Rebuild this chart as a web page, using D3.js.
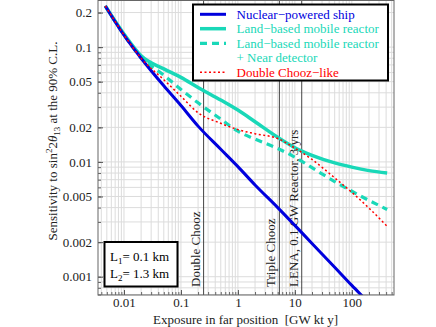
<!DOCTYPE html>
<html>
<head>
<meta charset="utf-8">
<script src="https://cdn.jsdelivr.net/npm/d3@7"></script>
<style>
  body { margin: 0; background: #fff; }
  text { font-family: "Liberation Serif", "DejaVu Serif", serif; }
</style>
</head>
<body>
<svg id="chart" width="436" height="327"></svg>
<script>
// exposure in far position [GW kt y]
var exposure = [0.0047, 0.01, 0.02, 0.05, 0.1, 0.2, 0.5, 1, 2, 5, 10, 20, 50, 100, 200, 417];
// sensitivity to sin^2 2theta13 (90% C.L.)
var shipVals = [0.228, 0.127, 0.080, 0.046, 0.031, 0.0205, 0.0129, 0.0091, 0.0063, 0.0040, 0.0028, 0.00195, 0.00121, 0.00084, 0.00059, 0.0004];
var landVals = [0.228, 0.130, 0.084, 0.0646, 0.0545, 0.0445, 0.0346, 0.0283, 0.0224, 0.0164, 0.0133, 0.0114, 0.0098, 0.0090, 0.0084, 0.0080];
var nearVals = [0.228, 0.128, 0.081, 0.057, 0.0428, 0.0327, 0.0236, 0.0185, 0.0158, 0.0131, 0.011, 0.0089, 0.00675, 0.00555, 0.00462, 0.00385];
var dcVals   = [0.228, 0.128, 0.080, 0.052, 0.0373, 0.0268, 0.0217, 0.0191, 0.0176, 0.016, 0.0132, 0.0105, 0.00726, 0.00543, 0.00396, 0.00275];

var markerNames = ["Double Chooz", "Triple Chooz", "LENA, 0.1 GW Reactor, 3 yrs"];
var markerExposure = [0.25, 5.35, 13.2];

var xTicks = [0.01, 0.1, 1, 10, 100];
var xTickLabels = ["0.01", "0.1", "1", "10", "100"];
var yTicks = [0.2, 0.1, 0.05, 0.02, 0.01, 0.005, 0.002, 0.001];
var yTickLabels = ["0.2", "0.1", "0.05", "0.02", "0.01", "0.005", "0.002", "0.001"];

var legendNames = ["Nuclear\u2212powered ship", "Land\u2212based mobile reactor", "Land\u2212based mobile reactor", "Double Chooz\u2212like"];

var blue = "#0000dd", teal = "#19d8b8", red = "#ff0000";

var pL = 98, pR = 394, pT = 0.5, pB = 295;
var svg = d3.select("#chart");

var x = d3.scaleLog().domain([0.0035, 550]).range([pL, pR]);
var y = d3.scaleLog().domain([0.000693, 0.2547]).range([pB, pT]);

svg.append("clipPath").attr("id", "clip")
  .append("rect").attr("x", pL).attr("y", pT).attr("width", pR - pL).attr("height", pB - pT);

// grid
var grid = svg.append("g");
grid.selectAll(".gx").data(x.ticks()).enter().append("line")
  .attr("x1", function (d) { return x(d); }).attr("x2", function (d) { return x(d); })
  .attr("y1", pT).attr("y2", pB)
  .attr("stroke", "#dcdcdc").attr("stroke-width", 1);
grid.selectAll(".gy").data(y.ticks()).enter().append("line")
  .attr("y1", function (d) { return y(d); }).attr("y2", function (d) { return y(d); })
  .attr("x1", pL).attr("x2", pR)
  .attr("stroke", "#dcdcdc").attr("stroke-width", 1);

// axes (inward ticks)
var xMinor = d3.axisBottom(x).tickValues(x.ticks()).tickSize(-3).tickFormat("");
var yMinor = d3.axisLeft(y).tickValues(y.ticks()).tickSize(-3).tickFormat("");
svg.append("g").attr("transform", "translate(0," + pB + ")").call(xMinor)
  .call(function (g) { g.select(".domain").remove(); g.selectAll("line").attr("stroke", "#666"); });
svg.append("g").attr("transform", "translate(" + pL + ",0)").call(yMinor)
  .call(function (g) { g.select(".domain").remove(); g.selectAll("line").attr("stroke", "#666"); });

var xAxis = d3.axisBottom(x).tickValues(xTicks).tickSize(-5).tickPadding(3)
  .tickFormat(function (d, i) { return xTickLabels[i]; });
svg.append("g").attr("transform", "translate(0," + pB + ")").call(xAxis)
  .call(function (g) {
    g.select(".domain").remove();
    g.selectAll("line").attr("stroke", "#555");
    g.selectAll("text").attr("font-size", 13).attr("fill", "#222")
      .attr("font-family", "Liberation Serif");
  });
var yAxis = d3.axisLeft(y).tickValues(yTicks).tickSize(-5).tickPadding(6)
  .tickFormat(function (d, i) { return yTickLabels[i]; });
svg.append("g").attr("transform", "translate(" + pL + ",0)").call(yAxis)
  .call(function (g) {
    g.select(".domain").remove();
    g.selectAll("line").attr("stroke", "#555");
    g.selectAll("text").attr("font-size", 13).attr("fill", "#222")
      .attr("font-family", "Liberation Serif");
  });

// marker lines
var markers = svg.append("g");
markerExposure.forEach(function (v, i) {
  markers.append("line")
    .attr("x1", x(v)).attr("x2", x(v)).attr("y1", pT).attr("y2", pB)
    .attr("stroke", "#444").attr("stroke-width", 1);
  markers.append("text")
    .attr("transform", "translate(" + (x(v) - 4) + "," + (pB - 8) + ") rotate(-90)")
    .attr("font-size", 13).attr("fill", "#222")
    .text(markerNames[i]);
});

// curves
var line = d3.line()
  .x(function (d) { return x(d[0]); })
  .y(function (d) { return y(d[1]); })
  .curve(d3.curveMonotoneX);
function pairs(vals) { return exposure.map(function (e, i) { return [e, vals[i]]; }); }

var curves = svg.append("g").attr("clip-path", "url(#clip)");
curves.append("path").datum(pairs(landVals)).attr("d", line)
  .attr("fill", "none").attr("stroke", teal).attr("stroke-width", 3.5);
curves.append("path").datum(pairs(nearVals)).attr("d", line)
  .attr("fill", "none").attr("stroke", teal).attr("stroke-width", 3.2)
  .attr("stroke-dasharray", "7,5");
curves.append("path").datum(pairs(shipVals)).attr("d", line)
  .attr("fill", "none").attr("stroke", blue).attr("stroke-width", 3);
curves.append("path").datum(pairs(dcVals)).attr("d", line)
  .attr("fill", "none").attr("stroke", red).attr("stroke-width", 1.5)
  .attr("stroke-dasharray", "2,2.5");

// frame
svg.append("rect").attr("x", pL).attr("y", pT).attr("width", pR - pL).attr("height", pB - pT)
  .attr("fill", "none").attr("stroke", "#666").attr("stroke-width", 1);

// legend
var lg = svg.append("g");
lg.append("rect").attr("x", 193).attr("y", 4.5).attr("width", 195).attr("height", 76)
  .attr("fill", "#fff").attr("stroke", "#000").attr("stroke-width", 2);
var legendRows = [14.3, 28.7, 43.3, 72.3];
var legendColors = [blue, teal, teal, red];
var legendWidth = [3, 3.5, 3.2, 1.5];
var legendDash = [null, null, "7,5", "2,2.5"];
legendNames.forEach(function (n, i) {
  lg.append("line").attr("x1", 200).attr("x2", 226)
    .attr("y1", legendRows[i]).attr("y2", legendRows[i])
    .attr("stroke", legendColors[i]).attr("stroke-width", legendWidth[i])
    .attr("stroke-dasharray", legendDash[i]);
  lg.append("text").attr("x", 236.5).attr("y", legendRows[i] + 4.5)
    .attr("font-size", 13).attr("fill", legendColors[i]).text(n);
});
lg.append("text").attr("x", 236.5).attr("y", 57.7 + 4.5)
  .attr("font-size", 13).attr("fill", teal).text("+ Near detector");

// baseline box
var lb = svg.append("g");
lb.append("rect").attr("x", 104.5).attr("y", 242).attr("width", 73).attr("height", 44.5)
  .attr("fill", "#fff").attr("stroke", "#000").attr("stroke-width", 2);
var t1 = lb.append("text").attr("x", 110).attr("y", 260.5).attr("font-size", 13);
t1.append("tspan").text("L");
t1.append("tspan").attr("font-size", 9).attr("dy", 3).text("1");
t1.append("tspan").attr("dy", -3).text("= 0.1 km");
var t2 = lb.append("text").attr("x", 110).attr("y", 277.5).attr("font-size", 13);
t2.append("tspan").text("L");
t2.append("tspan").attr("font-size", 9).attr("dy", 3).text("2");
t2.append("tspan").attr("dy", -3).text("= 1.3 km");

// axis titles
svg.append("text").attr("x", 245.5).attr("y", 324).attr("text-anchor", "middle")
  .attr("font-size", 13).attr("fill", "#222")
  .text("Exposure in far position\u00a0\u00a0[GW kt y]");

var yt = svg.append("text").attr("transform", "translate(57,141) rotate(-90)")
  .attr("text-anchor", "middle").attr("font-size", 13).attr("fill", "#222");
yt.append("tspan").text("Sensitivity to sin");
yt.append("tspan").attr("font-size", 9).attr("dy", -5).text("2");
yt.append("tspan").attr("dy", 5).text("2");
yt.append("tspan").attr("font-style", "italic").text("\u03b8");
yt.append("tspan").attr("font-size", 9).attr("dy", 3).text("13");
yt.append("tspan").attr("dy", -3).text(" at the 90% C.L.");
</script>
</body>
</html>
